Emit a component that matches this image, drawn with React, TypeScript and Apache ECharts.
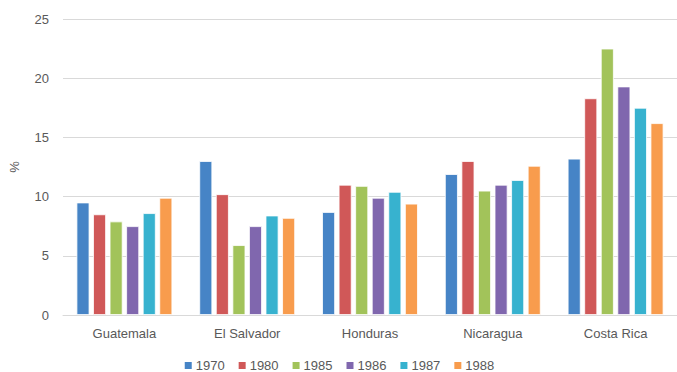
import React, { useEffect, useRef } from "react";
import * as echarts from "echarts";

const categories = ["Guatemala", "El Salvador", "Honduras", "Nicaragua", "Costa Rica"];
const years = ["1970", "1980", "1985", "1986", "1987", "1988"];
const v1970 = [9.5, 13.0, 8.7, 11.9, 13.2];
const v1980 = [8.5, 10.2, 11.0, 13.0, 18.3];
const v1985 = [7.9, 5.9, 10.9, 10.5, 22.5];
const v1986 = [7.5, 7.5, 9.9, 11.0, 19.3];
const v1987 = [8.6, 8.4, 10.4, 11.4, 17.5];
const v1988 = [9.9, 8.2, 9.4, 12.6, 16.2];
const seriesValues = [v1970, v1980, v1985, v1986, v1987, v1988];
const colors = ["#4684C6", "#D05858", "#A2C35A", "#8067AE", "#37B2CF", "#F89C4D"];

export default function App() {
  const ref = useRef<HTMLDivElement>(null);
  useEffect(() => {
    const chart = echarts.init(ref.current!, null, { renderer: "svg" });
    const font = "'Liberation Sans', Arial, sans-serif";
    chart.setOption({
      animation: false,
      textStyle: { fontFamily: font },
      grid: { left: 57, right: 0, top: 19, bottom: 57, containLabel: false },
      legend: {
        top: 359,
        left: "center",
        padding: 0,
        itemWidth: 9,
        itemHeight: 9,
        itemGap: 12,
        icon: "rect",
        textStyle: { color: "#595959", fontSize: 13, fontFamily: font, padding: [0, 0, 0, -2] },
        data: years,
      },
      xAxis: {
        type: "category",
        data: categories,
        axisLine: { lineStyle: { color: "#D9D9D9", width: 1 } },
        axisTick: { show: false },
        axisLabel: { color: "#595959", fontSize: 13, margin: 12, fontFamily: font },
      },
      yAxis: {
        type: "value",
        min: 0,
        max: 25,
        interval: 5,
        name: "%",
        nameLocation: "middle",
        nameGap: 42,
        nameRotate: 90,
        nameTextStyle: { color: "#595959", fontSize: 13, fontFamily: font },
        axisLine: { show: false },
        axisTick: { show: false },
        axisLabel: { color: "#595959", fontSize: 13, margin: 14, fontFamily: font },
        splitLine: { lineStyle: { color: "#D9D9D9", width: 1 } },
      },
      series: years.map((y, i) => ({
        name: y,
        type: "bar",
        data: seriesValues[i],
        barGap: "28%",
        barCategoryGap: "22%",
        itemStyle: { color: colors[i], borderColor: "#ffffff", borderWidth: 0.8 },
      })),
    });
    return () => chart.dispose();
  }, []);
  return <div ref={ref} style={{ width: 677, height: 372, position: "absolute", left: 0, top: 0 }} />;
}
